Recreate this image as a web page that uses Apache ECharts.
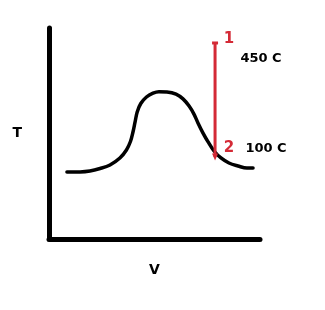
<!DOCTYPE html>
<html>
<head>
<meta charset="utf-8">
<script src="https://cdn.jsdelivr.net/npm/echarts@6/dist/echarts.min.js"></script>
<style>html,body{margin:0;padding:0;background:#fff}#c{width:325px;height:310px}</style>
</head>
<body>
<div id="c"></div>
<script>
// Curve: volume (x) vs temperature (y), arbitrary units 0-100
var curveV = [8.5, 14.7, 19.4, 24.2, 28.9, 33.6, 36.7, 38.6, 39.8, 40.8, 41.8, 43.5, 46.2, 49.3, 52.1, 55.9, 60.2, 63.5, 66.4, 68.7, 70.6, 73.0, 75.4, 78.2, 81.5, 85.3, 89.6, 93.8, 96.7];
var curveT = [31.8, 31.8, 32.2, 33.4, 35.1, 38.4, 42.2, 46.2, 50.7, 55.5, 60.2, 64.2, 67.3, 69.1, 69.8, 69.7, 68.7, 66.4, 63.0, 59.2, 55.0, 50.2, 46.0, 41.7, 38.4, 36.0, 34.6, 33.6, 33.6];
// Process 1 -> 2 (red vertical)
var procV = [78.7, 78.7];
var procT = [92.9, 38.9];
var procPointLabels = ['1', '2'];
var procTempLabels = ['450 C', '100 C'];
var axisNames = { x: 'V', y: 'T' };

var curveData = curveV.map(function (v, i) { return [v, curveT[i]]; });
var red = '#d42a36';
var procData = procV.map(function (v, i) {
  return {
    value: [v, procT[i]],
    symbol: i === 0 ? 'rect' : 'triangle',
    symbolSize: i === 0 ? [6, 3] : [6, 7],
    symbolRotate: i === 0 ? 0 : 180,
    label: { show: true, formatter: procPointLabels[i], position: 'inside', offset: i === 0 ? [14, -4] : [14, -9] }
  };
});
var tempData = procV.map(function (v, i) {
  return {
    value: [v, procT[i]],
    label: { show: true, formatter: procTempLabels[i], position: 'inside', offset: i === 0 ? [46, 16] : [51, -8] }
  };
});

var chart = echarts.init(document.getElementById('c'), null, { renderer: 'canvas' });
chart.setOption({
  animation: false,
  backgroundColor: '#fff',
  grid: { left: 49, right: 65, top: 28, bottom: 71 },
  xAxis: {
    type: 'value', min: 0, max: 100,
    name: axisNames.x, nameLocation: 'middle', nameGap: 24,
    nameTextStyle: { color: '#000', fontSize: 14, fontWeight: 'bold', fontFamily: 'DejaVu Sans' },
    axisLine: { show: true, lineStyle: { color: '#000', width: 5, cap: 'round' } },
    axisTick: { show: false }, axisLabel: { show: false }, splitLine: { show: false }
  },
  yAxis: {
    type: 'value', min: 0, max: 100,
    name: axisNames.y, nameLocation: 'middle', nameGap: 27, nameRotate: 0,
    nameTextStyle: { color: '#000', fontSize: 14, fontWeight: 'bold', fontFamily: 'DejaVu Sans' },
    axisLine: { show: true, lineStyle: { color: '#000', width: 5, cap: 'round' } },
    axisTick: { show: false }, axisLabel: { show: false }, splitLine: { show: false }
  },
  series: [
    {
      type: 'line', data: curveData, smooth: 0.35, showSymbol: false,
      lineStyle: { color: '#000', width: 3.5, join: 'round', cap: 'round' }
    },
    {
      type: 'line', data: procData, showSymbol: true, symbol: 'rect',
      itemStyle: { color: red },
      lineStyle: { color: red, width: 3 },
      label: { color: red, fontSize: 15, fontWeight: 'bold', fontFamily: 'DejaVu Sans' },
      z: 5
    },
    {
      type: 'scatter', data: tempData, symbolSize: 0,
      itemStyle: { opacity: 1 },
      label: { color: '#000', fontSize: 13, fontWeight: 'bold', fontFamily: 'DejaVu Sans', opacity: 1 },
      z: 6
    }
  ]
});
</script>
</body>
</html>
